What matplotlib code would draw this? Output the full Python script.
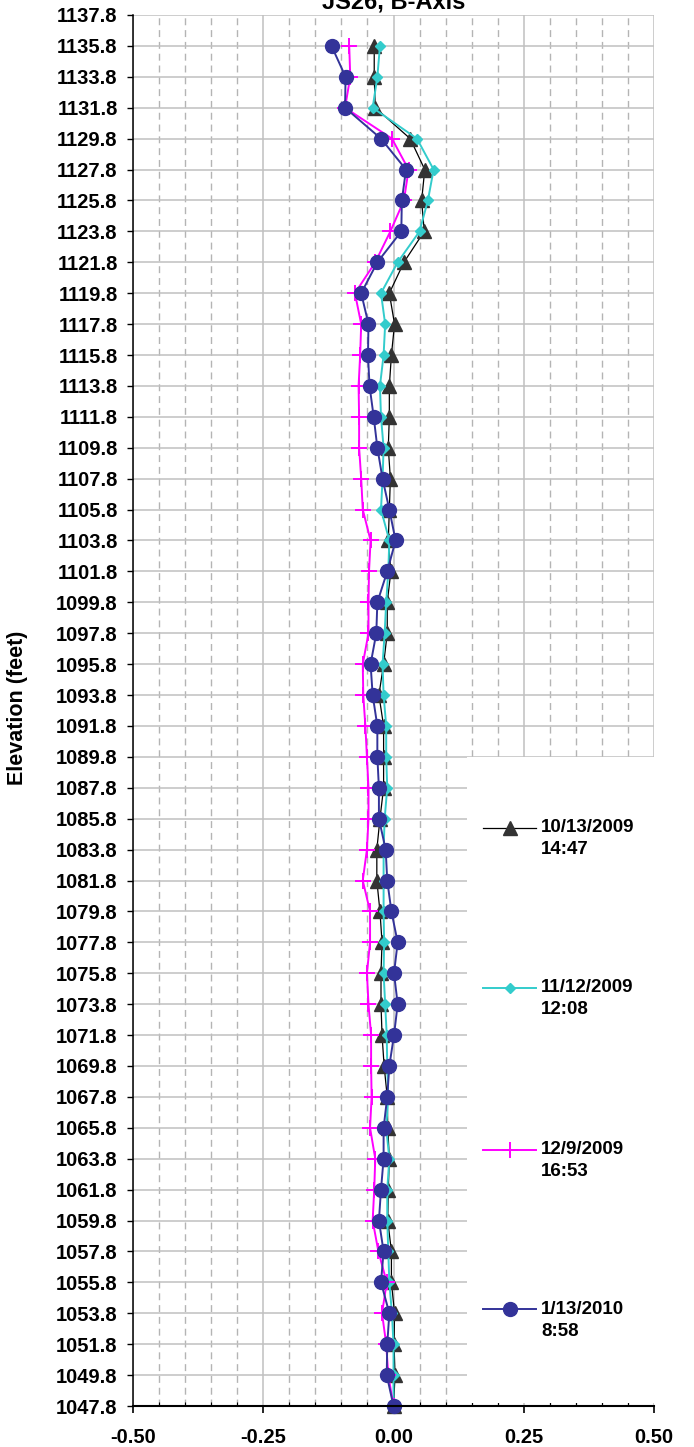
import matplotlib
matplotlib.use("Agg")
import matplotlib.pyplot as plt
import numpy as np
from matplotlib.patches import Rectangle
from matplotlib.lines import Line2D
from matplotlib.ticker import MultipleLocator, FixedLocator

plt.rcParams['font.family'] = ['Liberation Sans', 'DejaVu Sans']

elevation = [1135.8, 1133.8, 1131.8, 1129.8, 1127.8, 1125.8, 1123.8, 1121.8, 1119.8,
             1117.8, 1115.8, 1113.8, 1111.8, 1109.8, 1107.8, 1105.8, 1103.8, 1101.8,
             1099.8, 1097.8, 1095.8, 1093.8, 1091.8, 1089.8, 1087.8, 1085.8, 1083.8,
             1081.8, 1079.8, 1077.8, 1075.8, 1073.8, 1071.8, 1069.8, 1067.8, 1065.8,
             1063.8, 1061.8, 1059.8, 1057.8, 1055.8, 1053.8, 1051.8, 1049.8, 1047.8]

s_20091013 = [-0.037, -0.037, -0.035, 0.032, 0.060, 0.054, 0.059, 0.020, -0.008,
              0.002, -0.004, -0.008, -0.008, -0.010, -0.006, -0.008, -0.010, -0.005,
              -0.012, -0.012, -0.019, -0.028, -0.019, -0.019, -0.019, -0.026, -0.032,
              -0.032, -0.026, -0.022, -0.024, -0.024, -0.022, -0.018, -0.012, -0.011,
              -0.008, -0.010, -0.011, -0.004, -0.004, 0.002, 0.001, 0.003, 0.0]

s_20091112 = [-0.026, -0.031, -0.040, 0.045, 0.077, 0.066, 0.050, 0.008, -0.024,
              -0.016, -0.019, -0.026, -0.024, -0.019, -0.021, -0.024, -0.008, -0.010,
              -0.014, -0.017, -0.021, -0.019, -0.014, -0.014, -0.012, -0.017, -0.019,
              -0.019, -0.019, -0.018, -0.019, -0.016, -0.013, -0.012, -0.010, -0.014,
              -0.008, -0.012, -0.012, -0.010, -0.008, -0.003, 0.0, 0.0, 0.0]

s_20091209 = [-0.085, -0.083, -0.093, -0.003, 0.029, 0.020, -0.006, -0.035, -0.074,
              -0.062, -0.064, -0.067, -0.066, -0.066, -0.062, -0.059, -0.044, -0.047,
              -0.048, -0.048, -0.059, -0.058, -0.054, -0.051, -0.048, -0.048, -0.051,
              -0.059, -0.045, -0.045, -0.051, -0.048, -0.043, -0.043, -0.042, -0.045,
              -0.035, -0.037, -0.040, -0.029, -0.013, -0.022, -0.014, -0.010, 0.0]

s_20100113 = [-0.119, -0.092, -0.093, -0.024, 0.024, 0.016, 0.015, -0.031, -0.062,
              -0.048, -0.049, -0.046, -0.038, -0.031, -0.021, -0.008, 0.004, -0.012,
              -0.031, -0.033, -0.044, -0.040, -0.031, -0.031, -0.028, -0.028, -0.015,
              -0.012, -0.004, 0.008, 0.001, 0.008, 0.001, -0.008, -0.012, -0.019,
              -0.019, -0.024, -0.028, -0.019, -0.024, -0.008, -0.012, -0.013, 0.0]

series_labels = ["10/13/2009\n14:47", "11/12/2009\n12:08", "12/9/2009\n16:53", "1/13/2010\n8:58"]
y_ticks = [1047.8 + 2 * i for i in range(46)]
x_ticks = [-0.50, -0.25, 0.00, 0.25, 0.50]

W, H = 694, 1447
fig = plt.figure(figsize=(W / 100, H / 100), dpi=100)
ax = fig.add_axes([133 / W, 1 - 1406 / H, (654 - 133) / W, (1406 - 15) / H])

styles = [
    dict(color='#000000', lw=0.9, marker='^', ms=9.5, mfc='#333333', mec='#333333'),
    dict(color='#33CCCC', lw=1.4, marker='D', ms=5, mfc='#33CCCC', mec='#33CCCC'),
    dict(color='#FF00FF', lw=1.4, marker='+', ms=11, mew=1.4, mfc='#FF00FF', mec='#FF00FF'),
    dict(color='#333399', lw=1.4, marker='o', ms=10, mfc='#333399', mec='#333399'),
]
all_series = [s_20091013, s_20091112, s_20091209, s_20100113]
for i, (vals, st) in enumerate(zip(all_series, styles)):
    ax.plot(vals, elevation, clip_on=False, zorder=2 + i * 0.01, **st)

ax.set_xlim(-0.5, 0.5)
ax.set_ylim(1047.8, 1137.8)
ax.xaxis.set_major_locator(FixedLocator(x_ticks))
ax.xaxis.set_minor_locator(MultipleLocator(0.05))
ax.yaxis.set_major_locator(FixedLocator(y_ticks))
ax.set_xticklabels([f"{v:.2f}" for v in x_ticks])
ax.set_yticklabels([f"{v:.1f}" for v in y_ticks])

ax.set_axisbelow(True)
ax.grid(True, which='major', axis='y', color='#c0c0c0', lw=1.1, ls='-')
ax.grid(True, which='major', axis='x', color='#c0c0c0', lw=1.1, ls='-')
ax.grid(True, which='minor', axis='x', color='#b4b4b4', lw=1.0, ls=(0, (5, 3.5)))

for side in ['top', 'right']:
    ax.spines[side].set_visible(False)
ax.spines['left'].set_linewidth(1.1)
ax.spines['bottom'].set_linewidth(1.5)

ax.tick_params(axis='y', which='major', direction='out', length=4, width=1, pad=7,
               labelsize=14.5)
ax.tick_params(axis='x', which='major', direction='out', length=5, width=1.2, pad=11,
               labelsize=14.5)
ax.tick_params(axis='x', which='minor', direction='in', length=3, width=0.8)
for lab in ax.get_xticklabels() + ax.get_yticklabels():
    lab.set_fontweight('bold')

# white legend area
rect = Rectangle((467 / W, 1 - 1403 / H), 1 - 467 / W, (1403 - 757) / H,
                 transform=fig.transFigure, facecolor='white', edgecolor='none',
                 zorder=2.45, clip_on=False)
ax.add_patch(rect)

legend_y = [828, 988, 1150, 1309]
for lab, st, ly in zip(series_labels, styles, legend_y):
    yf = 1 - ly / H
    xs = [483 / W, 509.5 / W, 536 / W]
    ln = Line2D(xs, [yf] * 3, transform=fig.transFigure, markevery=[1], **st)
    fig.add_artist(ln)
    l1, l2 = lab.split("\n")
    fig.text(541 / W, yf, l1, fontsize=13.5, fontweight='bold', va='center', ha='left')
    fig.text(541 / W, 1 - (ly + 22) / H, l2, fontsize=13.5, fontweight='bold', va='center', ha='left')

fig.text(393.5 / W, 1 - 8 / H, "JS26, B-Axis", fontsize=17, fontweight='bold',
         ha='center', va='baseline')
fig.text(18 / W, 1 - 708 / H, "Elevation (feet)", fontsize=15.5, fontweight='bold',
         rotation=90, ha='center', va='center')

fig.savefig("out.png", dpi=100)
